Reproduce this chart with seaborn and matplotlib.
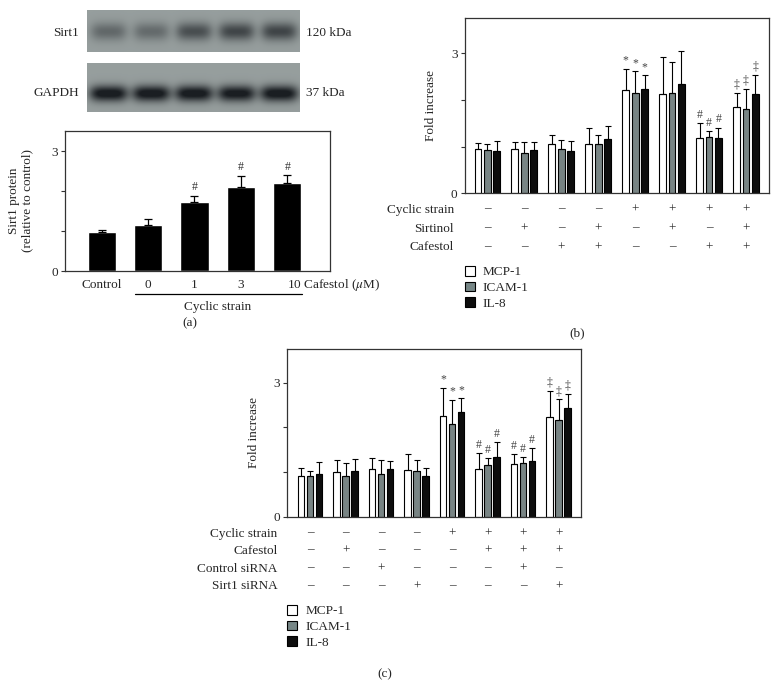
import numpy as np
import pandas as pd
import seaborn as sns
import matplotlib.pyplot as plt
import matplotlib.transforms as mtransforms
from matplotlib.patches import Patch
from matplotlib.colors import LinearSegmentedColormap

# ---- data ----
# western blot band strength per lane (Control, 0, 1, 3, 10)
sirt1_band = [0.38, 0.36, 0.56, 0.62, 0.63]
gapdh_band = [1.0, 1.0, 1.0, 0.97, 1.0]

a_groups = ['Control', '0', '1', '3', '10']
a_mean = [0.98, 1.15, 1.72, 2.11, 2.20]
a_err = [0.05, 0.16, 0.15, 0.26, 0.19]
a_marks = ['', '', '#', '#', '#']

markers = ['MCP-1', 'ICAM-1', 'IL-8']
colors = ['white', '#768686', '#0d0d0d']

b_mcp = [0.94, 0.94, 1.05, 1.06, 2.22, 2.13, 1.19, 1.85]
b_icam = [0.93, 0.86, 0.96, 1.05, 2.16, 2.14, 1.21, 1.81]
b_il8 = [0.91, 0.92, 0.91, 1.16, 2.23, 2.34, 1.18, 2.13]
b_mcp_err = [0.13, 0.17, 0.19, 0.33, 0.45, 0.80, 0.32, 0.31]
b_icam_err = [0.12, 0.25, 0.19, 0.21, 0.46, 0.67, 0.13, 0.43]
b_il8_err = [0.22, 0.17, 0.21, 0.29, 0.30, 0.70, 0.23, 0.41]
b_marks = ['', '', '', '', '*', '', '#', '\u2021']
b_rows = ['Cyclic strain', 'Sirtinol', 'Cafestol']
b_signs = [['–', '–', '–', '–', '+', '+', '+', '+'],
           ['–', '+', '–', '+', '–', '+', '–', '+'],
           ['–', '–', '+', '+', '–', '–', '+', '+']]

c_mcp = [0.90, 1.01, 1.07, 1.04, 2.26, 1.07, 1.18, 2.23]
c_icam = [0.90, 0.92, 0.96, 1.02, 2.07, 1.16, 1.21, 2.16]
c_il8 = [0.96, 1.02, 1.07, 0.92, 2.35, 1.34, 1.24, 2.44]
c_mcp_err = [0.18, 0.25, 0.25, 0.36, 0.62, 0.35, 0.22, 0.58]
c_icam_err = [0.12, 0.29, 0.30, 0.24, 0.55, 0.15, 0.12, 0.47]
c_il8_err = [0.27, 0.27, 0.17, 0.18, 0.30, 0.32, 0.30, 0.31]
c_marks = ['', '', '', '', '*', '#', '#', '\u2021']
c_rows = ['Cyclic strain', 'Cafestol', 'Control siRNA', 'Sirt1 siRNA']
c_signs = [['–', '–', '–', '–', '+', '+', '+', '+'],
           ['–', '+', '–', '–', '–', '+', '+', '+'],
           ['–', '–', '+', '–', '–', '–', '+', '–'],
           ['–', '–', '–', '+', '–', '–', '–', '+']]

# ---- style ----
sns.set_style('ticks')
plt.rcParams['font.family'] = ['Liberation Serif', 'DejaVu Serif']
plt.rcParams['mathtext.fontset'] = 'stix'
FS = 9.5
W, H = 778, 698
fig = plt.figure(figsize=(W / 100, H / 100), dpi=100)


def box(l, t, r, b):
    return fig.add_axes([l / W, 1 - b / H, (r - l) / W, (b - t) / H])


def fy(py):
    return 1 - py / H


def style_axes(ax, ymax):
    ax.set_ylim(0, ymax)
    ax.set_yticks([0, 1, 2, 3])
    ax.set_yticklabels(['0', '', '', '3'], fontsize=FS)
    ax.tick_params(axis='y', direction='out', length=3, width=0.8, color='#333', pad=2)
    ax.tick_params(axis='x', length=0)
    for s in ax.spines.values():
        s.set_visible(True)
        s.set_color('#333')
        s.set_linewidth(0.9)


# ---- western blot ----
cmap_blot = LinearSegmentedColormap.from_list('blot', ['#a4acab', '#1a1e22'])


def strip(ax, bands, width, height, yc, sx, sy):
    xx, yy = np.meshgrid(np.arange(width), np.arange(height))
    img = np.zeros((height, width)) + 0.1
    lane = width / len(bands)
    for i, v in enumerate(bands):
        xc = lane * (i + 0.5)
        img += v * np.exp(-((xx - xc) / sx) ** 4 - ((yy - yc) / sy) ** 2)
    ax.imshow(img, cmap=cmap_blot, vmin=0, vmax=1.0, aspect='auto', interpolation='bilinear')
    ax.set_axis_off()


ax_s = box(87, 10, 300, 52)
strip(ax_s, sirt1_band, 213, 42, 21, 18, 9)
ax_g = box(87, 63, 300, 112)
strip(ax_g, gapdh_band, 213, 49, 30, 19, 8)
fig.text(79 / W, fy(33), 'Sirt1', ha='right', va='center', fontsize=FS)
fig.text(79 / W, fy(93), 'GAPDH', ha='right', va='center', fontsize=FS)
fig.text(306 / W, fy(33), '120 kDa', ha='left', va='center', fontsize=FS)
fig.text(306 / W, fy(93), '37 kDa', ha='left', va='center', fontsize=FS)

# ---- panel (a) ----
ax_a = box(65, 131, 330, 271)
sns.barplot(x=a_groups, y=a_mean, color='black', width=0.61, errorbar=None, ax=ax_a)
style_axes(ax_a, 3.5)
ax_a.set_xlim(-0.79, 4.92)
for p, e, m in zip(ax_a.patches, a_err, a_marks):
    xc = p.get_x() + p.get_width() / 2
    top = p.get_height()
    ax_a.errorbar(xc, top, yerr=[[0], [e]], color='black', lw=0.9, capsize=3, capthick=0.9)
    if m:
        ax_a.annotate(m, (xc, top + e), xytext=(0, 2), textcoords='offset points',
                      ha='center', va='bottom', fontsize=FS - 1, color='#333')
ax_a.set_xticks(range(5))
ax_a.set_xticklabels(['Control', '0', '1', '3', ''], fontsize=FS)
ax_a.tick_params(axis='x', pad=6)
tr_a = mtransforms.blended_transform_factory(ax_a.transData, fig.transFigure)
ax_a.text(3.99, fy(285), '10 Cafestol ($\\mu$M)', transform=tr_a, ha='left', va='center', fontsize=FS)
ax_a.plot([0.72, 4.31], [fy(294), fy(294)], color='black', lw=0.9, transform=tr_a, clip_on=False)
ax_a.text(2.5, fy(307), 'Cyclic strain', transform=tr_a, ha='center', va='center', fontsize=FS)
ax_a.set_ylabel('Sirt1 protein\n(relative to control)', fontsize=FS, linespacing=1.1)
ax_a.yaxis.set_label_coords(-0.12, 0.5)
fig.text(190 / W, fy(323), '(a)', ha='center', va='center', fontsize=FS)


# ---- grouped panels (b), (c) ----
def grouped(ax, mcp, icam, il8, errs, marks, rows, signs, xlim, label_x, row_y, leg_xy):
    n = len(mcp)
    df = pd.DataFrame({
        'group': [str(i) for i in range(n)] * 3,
        'marker': sum([[m] * n for m in markers], []),
        'value': mcp + icam + il8,
    })
    sns.barplot(data=df, x='group', y='value', hue='marker', hue_order=markers,
                palette=colors, width=0.76, gap=0.28, edgecolor='black', linewidth=0.8,
                errorbar=None, legend=False, ax=ax)
    style_axes(ax, 3.75)
    ax.set_xlim(*xlim)
    ax.set_xticks([])
    ax.set_xlabel('')
    ax.set_ylabel('Fold increase', fontsize=FS)
    ax.yaxis.set_label_coords(-0.09, 0.5)
    for cont, err in zip(ax.containers, errs):
        for p, e, m in zip(cont, err, marks):
            xc = p.get_x() + p.get_width() / 2
            top = p.get_height()
            ax.errorbar(xc, top, yerr=[[0], [e]], color='black', lw=0.8, capsize=2.5, capthick=0.8)
            if m:
                ax.annotate(m, (xc, top + e), xytext=(0, 1.5), textcoords='offset points',
                            ha='center', va='bottom', fontsize=FS - 1, color='#444')
    tr = mtransforms.blended_transform_factory(ax.transData, fig.transFigure)
    for lab, sg, py in zip(rows, signs, row_y):
        fig.text(label_x / W, fy(py), lab, ha='right', va='center', fontsize=FS)
        for i, s in enumerate(sg):
            # en dash sits a little low, lift it to the level of the plus sign
            yy = fy(py - 1.5) if s == '–' else fy(py)
            ax.text(i, yy, s, transform=tr, ha='center', va='center', fontsize=FS)
    handles = [Patch(facecolor=c, edgecolor='black', linewidth=0.8, label=m)
               for c, m in zip(colors, markers)]
    fig.legend(handles=handles, loc='upper left', bbox_to_anchor=(leg_xy[0] / W, fy(leg_xy[1])),
               frameon=False, fontsize=FS, handlelength=0.75, handleheight=0.75,
               handletextpad=0.6, labelspacing=0.25, borderpad=0, borderaxespad=0)


ax_b = box(464.5, 18.3, 769, 193.3)
grouped(ax_b, b_mcp, b_icam, b_il8, [b_mcp_err, b_icam_err, b_il8_err], b_marks,
        b_rows, b_signs, (-0.615, 7.62), 454, [210, 229, 247.3], (465, 266))
fig.text(577 / W, fy(333), '(b)', ha='center', va='center', fontsize=FS)

ax_c = box(286.7, 349, 581, 516.7)
grouped(ax_c, c_mcp, c_icam, c_il8, [c_mcp_err, c_icam_err, c_il8_err], c_marks,
        c_rows, c_signs, (-0.66, 7.63), 277.3, [534, 551, 569, 586.3], (287.3, 605))
fig.text(385 / W, fy(674), '(c)', ha='center', va='center', fontsize=FS)

plt.savefig('out.png', dpi=100)
